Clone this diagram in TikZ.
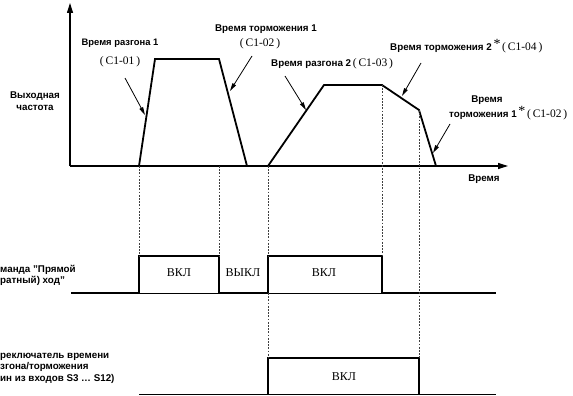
\documentclass[tikz,border=0pt]{standalone}
\usepackage{fontspec}
\setmainfont{Liberation Serif}
\setsansfont{Liberation Sans}
\usetikzlibrary{arrows.meta}
\newcommand{\codefont}{\rmfamily\mdseries\fontsize{11.5}{12}\selectfont}
\newcommand{\starmark}{{\rmfamily\mdseries\fontsize{14}{14}\selectfont\raisebox{2.5pt}{*}}}
\begin{document}
\begin{tikzpicture}[x=1pt,y=-1pt,
  lbl/.style={font=\sffamily\bfseries\fontsize{9.8}{11.5}\selectfont, inner sep=0pt},
  code/.style={font=\codefont, inner sep=0pt},
  state/.style={font=\rmfamily\fontsize{12}{13}\selectfont, inner sep=0pt},
  wave/.style={line width=1.8pt, line join=miter},
  sig/.style={line width=1.5pt, line join=miter},
  base/.style={line width=0.9pt},
  axisline/.style={line width=1.1pt, -{Triangle[length=10pt,width=6pt]}},
  guide/.style={line width=0.8pt, black!75, dash pattern=on 1.7pt off 1.5pt},
  pointer/.style={line width=0.8pt, -{Triangle[length=8pt,width=4pt]}}
]
\useasboundingbox (0,0) rectangle (573,396);

% axes
\coordinate (O) at (70,166);
\coordinate (Ytip) at (70,3);
\coordinate (Xtip) at (508,166);
\draw[axisline] (O) -- (Ytip);
\draw[axisline] (O) -- (Xtip);

% output frequency waveform
\coordinate (w1) at (139,166);
\coordinate (w2) at (155,59);
\coordinate (w3) at (219,59);
\coordinate (w4) at (247,166);
\coordinate (w5) at (268,166);
\coordinate (w6) at (324,85);
\coordinate (w7) at (382,85);
\coordinate (w8) at (419,110);
\coordinate (w9) at (436,166);
\coordinate (w3b) at (219,166);
\draw[wave] (O) -- (w1) -- (w2) -- (w3) -- (w4) -- (w5) -- (w6) -- (w7) -- (w8) -- (w9);

% run command signal
\coordinate (r0) at (71,293);
\coordinate (r1) at (139,293);
\coordinate (r2) at (139,256);
\coordinate (r3) at (219,256);
\coordinate (r4) at (219,293);
\coordinate (r5) at (268,293);
\coordinate (r6) at (268,256);
\coordinate (r7) at (382,256);
\coordinate (r8) at (382,293);
\coordinate (r9) at (496,293);
\draw[base] (r0) -- (r9);
\draw[sig] (r0) -- (r1) -- (r2) -- (r3) -- (r4) -- (r5) -- (r6) -- (r7) -- (r8) -- (r9);

% accel/decel switch signal
\coordinate (s0) at (139,394.5);
\coordinate (s1) at (268,394.5);
\coordinate (s2) at (268,358);
\coordinate (s3) at (419,358);
\coordinate (s4) at (419,394.5);
\coordinate (s5) at (496,394.5);
\draw[base] (s0) -- (s5);
\draw[sig] (s1) -- (s2) -- (s3) -- (s4) -- (s5);

% guide lines
\draw[guide] (w1) -- (r2);
\draw[guide] (w3b) -- (r3);
\draw[guide] (w5) -- (r6);
\draw[guide] (r5) -- (s2);
\draw[guide] (w7) -- (r7);
\draw[guide] (w8) -- (s3);

% axis labels
\node[lbl, align=center] (yl) at (35,101) {Выходная\\частота};
\node[lbl] (xl) at (484,179) {Время};

% annotations
\node[lbl, font=\sffamily\bfseries\fontsize{9.4}{11}\selectfont] (a1) at (120,43) {Время разгона 1};
\node[code] (a1c) at (120,62) {(\,C1-01\,)};
\node[lbl] (d1) at (266,29) {Время торможения 1};
\node[code] (d1c) at (260,44) {(\,C1-02\,)};
\node[lbl, anchor=west] (a2) at (271,64) {Время разгона 2\,{\codefont(\,C1-03\,)}};
\node[lbl, anchor=west] (d2) at (390,46) {Время торможения 2\,\starmark\,{\codefont(\,C1-04\,)}};
\node[lbl] (d3a) at (487,100) {Время};
\node[lbl, anchor=west] (d3) at (449,113) {торможения 1\,\starmark\,{\codefont(\,C1-02\,)}};

% pointers
\coordinate (p1s) at (125,78);  \coordinate (p1e) at (145,115);
\coordinate (p2s) at (252,56);  \coordinate (p2e) at (230,91);
\coordinate (p3s) at (285,76);  \coordinate (p3e) at (306,110);
\coordinate (p4s) at (421,63);  \coordinate (p4e) at (402,96);
\coordinate (p5s) at (450,124); \coordinate (p5e) at (433,153);
\draw[pointer] (p1s) -- (p1e);
\draw[pointer] (p2s) -- (p2e);
\draw[pointer] (p3s) -- (p3e);
\draw[pointer] (p4s) -- (p4e);
\draw[pointer] (p5s) -- (p5e);

% signal labels
\node[lbl, anchor=west, align=left] (runl) at (0,275.5) {манда "Прямой\\ратный) ход"};
\node[lbl, anchor=west, align=left] (swl) at (0,368) {реключатель времени\\згона/торможения\\ин из входов S3 … S12)};

% state labels
\node[state] (on1) at (179,273) {ВКЛ};
\node[state] (off1) at (243,273) {ВЫКЛ};
\node[state] (on2) at (324,273) {ВКЛ};
\node[state] (on3) at (344,377) {ВКЛ};
\end{tikzpicture}
\end{document}
